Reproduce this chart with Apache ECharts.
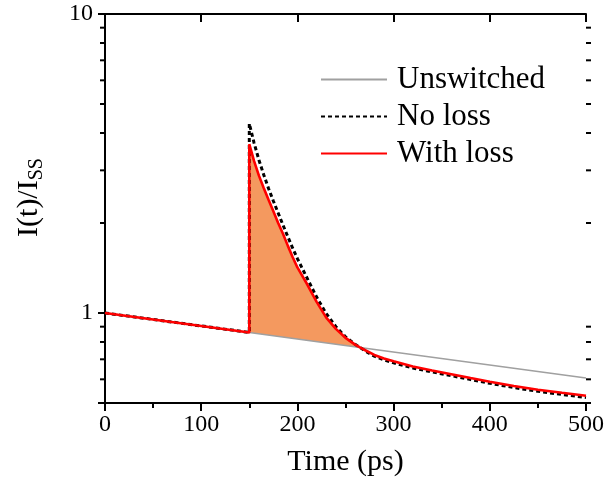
<!DOCTYPE html>
<html>
<head>
<meta charset="utf-8">
<script src="https://cdn.jsdelivr.net/npm/echarts@6/dist/echarts.min.js"></script>
<style>html,body{margin:0;padding:0;background:#fff}#c{width:607px;height:482px}</style>
</head>
<body>
<div id="c"></div>
<script>
// ---- data ----
var timeGray = [0, 150, 265, 500];
var unswitched = [1, 0.861, 0.767, 0.606];

var timeSw = [0, 150, 150, 155, 160, 165, 170, 175, 180, 185, 190, 195, 200, 210, 220, 230, 240, 250, 260, 265, 270, 280, 290, 300, 320, 340, 360, 380, 400, 425, 450, 475, 500];
var withLoss = [1, 0.861, 3.67, 3.22, 2.88, 2.62, 2.39, 2.19, 2.00, 1.84, 1.68, 1.54, 1.42, 1.25, 1.09, 0.965, 0.885, 0.826, 0.784, 0.767, 0.752, 0.724, 0.704, 0.689, 0.662, 0.642, 0.624, 0.606, 0.589, 0.570, 0.554, 0.541, 0.529];
var noLoss = [1, 0.861, 4.30, 3.70, 3.25, 2.90, 2.61, 2.37, 2.16, 1.97, 1.80, 1.65, 1.52, 1.31, 1.13, 0.995, 0.900, 0.832, 0.786, 0.767, 0.748, 0.717, 0.697, 0.681, 0.655, 0.635, 0.617, 0.599, 0.582, 0.563, 0.547, 0.534, 0.522];

var legendNames = ['Unswitched', 'No loss', 'With loss'];
var xTicks = [0, 100, 200, 300, 400, 500];
var yMinorTicks = [0.5, 0.6, 0.7, 0.8, 0.9, 2, 3, 4, 5, 6, 7, 8, 9];
var switchTime = 150, crossTime = 265;

// ---- build ----
function pairs(xs, ys) { return xs.map(function (x, i) { return [x, ys[i]]; }); }
var FONT = '"Liberation Serif","Times New Roman",serif';
var chart = echarts.init(document.getElementById('c'), null, {renderer: 'canvas'});

function isDecade(v) { var l = Math.log10(v); return v >= 1 && Math.abs(l - Math.round(l)) < 1e-6; }

var axisLineStyle = {color: '#000', width: 2};
var option = {
  animation: false,
  backgroundColor: '#fff',
  grid: {left: 105, right: 18, top: 14, bottom: 76},
  legend: {
    left: 315, top: 59, orient: 'vertical', itemWidth: 66, itemHeight: 14, itemGap: 6,
    itemStyle: {opacity: 0},
    textStyle: {fontFamily: FONT, fontSize: 31, color: '#000', padding: [0, 0, 0, 5]},
    data: legendNames
  },
  xAxis: [{
    type: 'value', min: 0, max: 500, interval: 100, position: 'bottom',
    name: 'Time (ps)', nameLocation: 'middle', nameGap: 44,
    nameTextStyle: {fontFamily: FONT, fontSize: 30, color: '#000'},
    axisLine: {lineStyle: axisLineStyle},
    axisTick: {show: true, length: 8, inside: false, lineStyle: {width: 2, color: '#000'}},
    minorTick: {show: true, splitNumber: 2, length: 5, lineStyle: {width: 2, color: '#000'}},
    axisLabel: {fontFamily: FONT, fontSize: 24, color: '#000', margin: 10},
    splitLine: {show: false}
  }, {
    type: 'value', min: 0, max: 500, interval: 100, position: 'top',
    axisLine: {lineStyle: axisLineStyle},
    axisTick: {show: true, length: 8, inside: true, lineStyle: {width: 2, color: '#000'}},
    axisLabel: {show: false}, splitLine: {show: false}
  }],
  yAxis: [{
    type: 'log', logBase: 10, min: 0.5, max: 10, position: 'left',
    name: '{m|I(t)/I}{s|SS}', nameLocation: 'middle', nameRotate: 90, nameGap: 58,
    nameTextStyle: {fontFamily: FONT, fontSize: 30, color: '#000', padding: [0, 0, 0, 22],
      rich: {m: {fontFamily: FONT, fontSize: 30, color: '#000'},
             s: {fontFamily: FONT, fontSize: 20, color: '#000', verticalAlign: 'bottom', padding: [16, 0, 0, 0]}}},
    axisLine: {lineStyle: axisLineStyle},
    axisTick: {show: true, length: 7, inside: false, lineStyle: {width: 2, color: '#000'}},
    axisLabel: {fontFamily: FONT, fontSize: 24, color: '#000', margin: 12,
      formatter: function (v) { return isDecade(v) ? String(Math.round(v)) : ''; }},
    splitLine: {show: false}
  }, {
    type: 'log', logBase: 10, min: 0.5, max: 10, position: 'right',
    axisLine: {lineStyle: axisLineStyle},
    axisTick: {show: true, length: 7, inside: true, lineStyle: {width: 2, color: '#000'}},
    axisLabel: {show: false}, splitLine: {show: false}
  }],
  series: [
    {
      type: 'custom', name: 'fill', silent: true, z: 1, clip: true,
      data: [[switchTime, 1]],
      renderItem: function (params, api) {
        var pts = [];
        for (var i = 0; i < timeSw.length; i++) {
          if (timeSw[i] >= switchTime && timeSw[i] <= crossTime && !(timeSw[i] === switchTime && i < 2)) {
            pts.push(api.coord([timeSw[i], withLoss[i]]));
          }
        }
        for (var j = timeGray.length - 1; j >= 0; j--) {
          if (timeGray[j] >= switchTime && timeGray[j] <= crossTime) pts.push(api.coord([timeGray[j], unswitched[j]]));
        }
        return {type: 'polygon', shape: {points: pts}, style: {fill: '#F4995F', stroke: null}};
      }
    },
    {
      type: 'custom', name: 'minorTicks', silent: true, z: 5, clip: false,
      data: yMinorTicks.map(function (v) { return [0, v]; }),
      renderItem: function (params, api) {
        var v = api.value(1);
        var a = api.coord([0, v]), b = api.coord([500, v]);
        return {type: 'group', children: [
          {type: 'line', shape: {x1: a[0] - 5, y1: a[1], x2: a[0], y2: a[1]}, style: {stroke: '#000', lineWidth: 2}},
          {type: 'line', shape: {x1: b[0], y1: b[1], x2: b[0] + 5, y2: b[1]}, style: {stroke: '#000', lineWidth: 2}}
        ]};
      }
    },
    {
      type: 'line', name: legendNames[0], data: pairs(timeGray, unswitched), showSymbol: false, symbol: 'none', z: 2,
      lineStyle: {color: '#a0a0a0', width: 1.6}, itemStyle: {color: '#a0a0a0'}
    },
    {
      type: 'line', name: legendNames[1], data: pairs(timeSw, noLoss), showSymbol: false, symbol: 'none', z: 3,
      lineStyle: {color: '#000', width: 3, type: [4, 3]}, itemStyle: {color: '#000'}
    },
    {
      type: 'line', name: legendNames[2], data: pairs(timeSw, withLoss), showSymbol: false, symbol: 'none', z: 4,
      lineStyle: {color: '#ff0000', width: 2.6}, itemStyle: {color: '#ff0000'}
    }
  ]
};
chart.setOption(option);
</script>
</body>
</html>
